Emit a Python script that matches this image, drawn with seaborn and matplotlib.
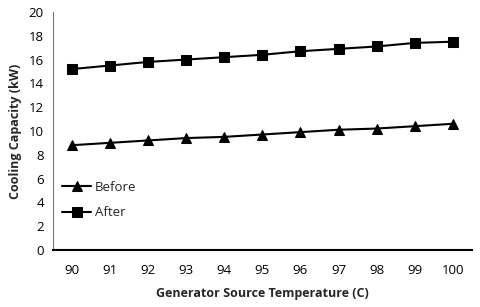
import pandas as pd
import matplotlib.pyplot as plt
import seaborn as sns

# Data
temps = [90, 91, 92, 93, 94, 95, 96, 97, 98, 99, 100]
before = [8.8, 9.0, 9.2, 9.4, 9.5, 9.7, 9.9, 10.1, 10.2, 10.4, 10.6]
after = [15.2, 15.5, 15.8, 16.0, 16.2, 16.4, 16.7, 16.9, 17.1, 17.4, 17.5]

df = pd.DataFrame({'Temp': temps, 'Before': before, 'After': after})

sns.set_style('white')
plt.rcParams['font.family'] = ['Open Sans', 'DejaVu Sans']

fig = plt.figure(figsize=(4.8, 3.07), dpi=100)
ax = fig.add_axes([0.110, 0.186, 0.873, 0.775])

sns.lineplot(data=df, x='Temp', y='Before', marker='^', markersize=7, color='black',
             linewidth=1.5, markeredgecolor='black', label='Before', ax=ax)
sns.lineplot(data=df, x='Temp', y='After', marker='s', markersize=7, color='black',
             linewidth=1.5, markeredgecolor='black', label='After', ax=ax)

ax.set_xlim(89.5, 100.5)
ax.set_ylim(0, 20)
ax.set_xticks(temps)
ax.set_yticks(range(0, 21, 2))
ax.tick_params(axis='both', labelsize=9.5, colors='black', length=3, width=1, direction='out')
ax.tick_params(axis='x', pad=7)

for s in ['top', 'right']:
    ax.spines[s].set_visible(False)
ax.spines['bottom'].set_linewidth(1.5)
ax.spines['left'].set_linewidth(0.8)
ax.spines['left'].set_color('#777777')
ax.spines['bottom'].set_color('black')

ax.set_xlabel('Generator Source Temperature (C)', fontsize=9, fontweight='bold', labelpad=7)
ax.set_ylabel('Cooling Capacity (kW)', fontsize=9, fontweight='bold', labelpad=5)

leg = ax.legend(loc='lower left', bbox_to_anchor=(0.0, 0.09), frameon=False, fontsize=9.5,
                handlelength=2.2, handletextpad=0.3, labelspacing=0.95, borderaxespad=0.3)

plt.savefig('out.png', dpi=100, facecolor='white')
